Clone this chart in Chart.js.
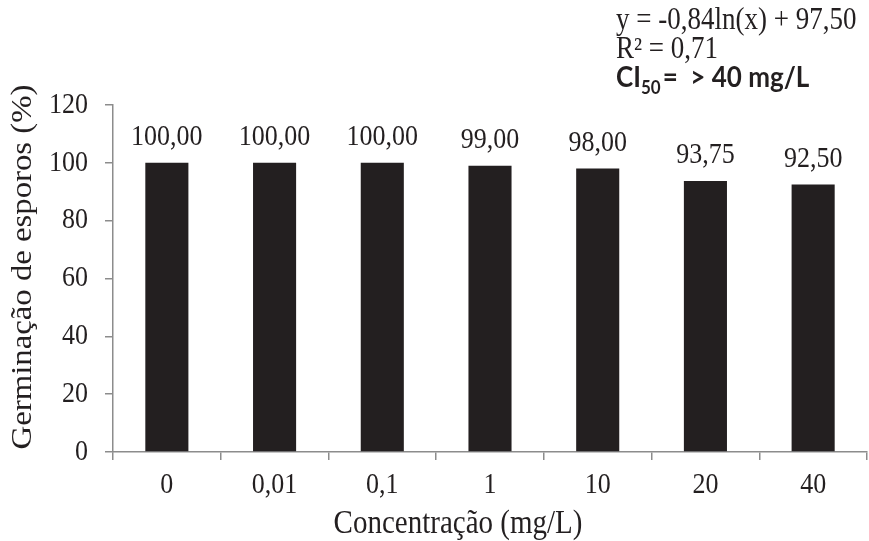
<!DOCTYPE html>
<html>
<head>
<meta charset="utf-8">
<script src="https://cdn.jsdelivr.net/npm/chart.js@4/dist/chart.umd.min.js"></script>
<style>
html,body{margin:0;padding:0;background:#fff;}
#wrap{width:869px;height:541px;position:relative;}
</style>
</head>
<body>
<div id="wrap"><canvas id="c" width="869" height="541"></canvas></div>
<script>
const categories = ["0", "0,01", "0,1", "1", "10", "20", "40"];
const germination = [100.00, 100.00, 100.00, 99.00, 98.00, 93.75, 92.50];
const yTicks = [0, 20, 40, 60, 80, 100, 120];
const equationLines = ["y = -0,84ln(x) + 97,50", "R\u00B2 = 0,71"];
const ciLabel = ["CI", "50", "=  > 40 mg/L"];
const xTitle = "Concentração (mg/L)";
const yTitle = "Germinação de esporos (%)";

const SERIF = "'Liberation Serif', 'Times New Roman', serif";
const SANS = "Lato, 'Liberation Sans', Arial, sans-serif";
const TXT = '#231f20';
const AX = '#8c8c8c';
const STRETCH = 1.13; // glyphs in the reference are taller than wide

function fmt(v){ return v.toFixed(2).replace('.', ','); }

function tallText(ctx, text, x, y, font, align, baseline){
  ctx.save();
  ctx.font = font;
  ctx.textAlign = align;
  ctx.textBaseline = baseline;
  ctx.translate(x, y);
  ctx.scale(1, STRETCH);
  ctx.fillText(text, 0, 0);
  ctx.restore();
}

const labelPlugin = {
  id: 'labels',
  afterDatasetsDraw(chart){
    const ctx = chart.ctx;
    const meta = chart.getDatasetMeta(0);
    const xs = chart.scales.x, ys = chart.scales.y;
    ctx.save();
    ctx.fillStyle = TXT;
    const f26 = "26px " + SERIF;
    // bar value labels
    meta.data.forEach((bar, i) => {
      tallText(ctx, fmt(germination[i]), bar.x, bar.y - 18, f26, 'center', 'alphabetic');
    });
    // y tick labels
    yTicks.forEach(v => {
      tallText(ctx, String(v), 88, ys.getPixelForValue(v), f26, 'right', 'middle');
    });
    // x tick labels
    categories.forEach((c, i) => {
      tallText(ctx, c, xs.getPixelForValue(i), 493, f26, 'center', 'alphabetic');
    });
    // axis titles
    tallText(ctx, xTitle, 458, 533, "29px " + SERIF, 'center', 'alphabetic');
    ctx.save();
    ctx.translate(23, 267);
    ctx.rotate(-Math.PI / 2);
    ctx.scale(STRETCH, 1);
    ctx.font = "29px " + SERIF;
    ctx.textAlign = 'center';
    ctx.textBaseline = 'middle';
    ctx.fillText(yTitle, 0, 0);
    ctx.restore();
    // equation block
    tallText(ctx, equationLines[0], 616, 29, "27px " + SERIF, 'left', 'alphabetic');
    tallText(ctx, equationLines[1], 616, 58, "27px " + SERIF, 'left', 'alphabetic');
    let x = 616;
    const fb = "bold 26px " + SANS, fs = "bold 17px " + SANS;
    tallText(ctx, ciLabel[0], x, 87, fb, 'left', 'alphabetic');
    ctx.font = fb; x += ctx.measureText(ciLabel[0]).width;
    tallText(ctx, ciLabel[1], x, 94, fs, 'left', 'alphabetic');
    ctx.font = fs; x += ctx.measureText(ciLabel[1]).width + 2;
    tallText(ctx, ciLabel[2], x, 87, fb, 'left', 'alphabetic');
    ctx.restore();
  }
};

new Chart(document.getElementById('c'), {
  type: 'bar',
  data: {
    labels: categories,
    datasets: [{
      data: germination,
      backgroundColor: '#231f20',
      borderWidth: 0,
      barPercentage: 0.4,
      categoryPercentage: 1.0
    }]
  },
  options: {
    responsive: false,
    animation: false,
    devicePixelRatio: 1,
    layout: { padding: { top: 105, right: 2, left: 0, bottom: 0 } },
    plugins: { legend: { display: false }, tooltip: { enabled: false } },
    scales: {
      x: {
        grid: { display: true, drawOnChartArea: false, drawTicks: true, tickLength: 8, color: AX, tickColor: AX, lineWidth: 1.5, offset: true },
        border: { display: true, color: AX, width: 1.5 },
        ticks: { display: false },
        title: { display: false },
        afterFit(scale){ scale.height = 89; }
      },
      y: {
        min: 0, max: 120,
        afterBuildTicks(scale){ scale.ticks = yTicks.map(v => ({ value: v })); },
        grid: { display: true, drawOnChartArea: false, drawTicks: true, tickLength: 8, color: AX, tickColor: AX, lineWidth: 1.5 },
        border: { display: true, color: AX, width: 1.5 },
        ticks: { display: false },
        title: { display: false },
        afterFit(scale){ scale.width = 113; }
      }
    }
  },
  plugins: [labelPlugin]
});
</script>
</body>
</html>
